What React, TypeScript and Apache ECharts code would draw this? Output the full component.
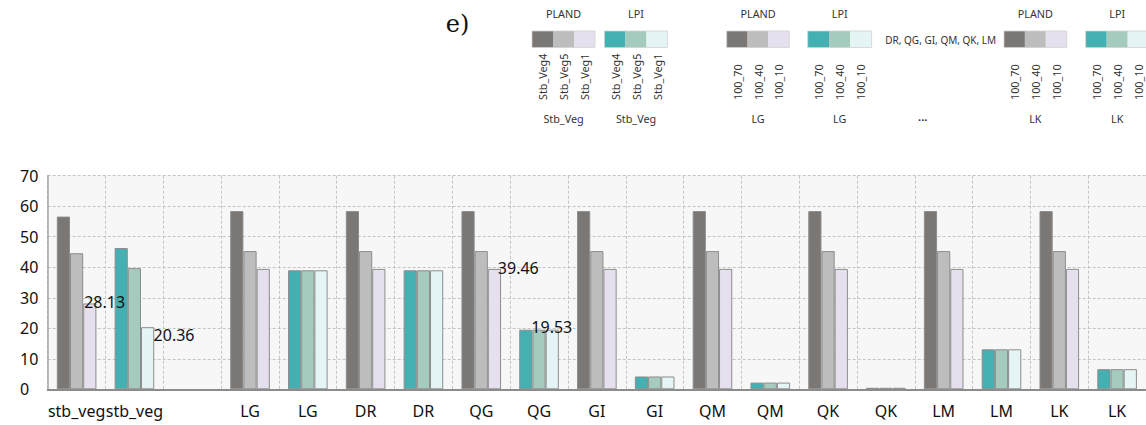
import React, { useEffect, useRef } from "react";
import * as echarts from "echarts";

// Landscape metrics per scenario: each category holds three bars
const categories = [
  "stb_veg", "stb_veg", "", "LG", "LG", "DR", "DR", "QG", "QG",
  "GI", "GI", "QM", "QM", "QK", "QK", "LM", "LM", "LK", "LK",
];
const metrics = [
  "PLAND", "LPI", "", "PLAND", "LPI", "PLAND", "LPI", "PLAND", "LPI",
  "PLAND", "LPI", "PLAND", "LPI", "PLAND", "LPI", "PLAND", "LPI", "PLAND", "LPI",
];
// first / second / third bar of each category (Stb_Veg4, Stb_Veg5, Stb_Veg1 or 100_70, 100_40, 100_10)
const barA = [56.6, 46.3, null, 58.4, 39.0, 58.4, 39.0, 58.4, 19.53, 58.4, 4.2, 58.4, 2.2, 58.4, 0.5, 58.4, 13.1, 58.4, 6.6];
const barB = [44.6, 39.7, null, 45.3, 39.0, 45.3, 39.0, 45.3, 19.53, 45.3, 4.2, 45.3, 2.2, 45.3, 0.5, 45.3, 13.1, 45.3, 6.6];
const barC = [28.13, 20.36, null, 39.46, 39.0, 39.46, 39.0, 39.46, 19.53, 39.46, 4.2, 39.46, 2.2, 39.46, 0.5, 39.46, 13.1, 39.46, 6.6];

const yTicks = [0, 10, 20, 30, 40, 50, 60, 70];

const plandColors = ["#7b7774", "#bdbdbd", "#e6e0ee"];
const lpiColors = ["#45b0b2", "#a4cbbd", "#e5f4f4"];

const vegKeys = ["Stb_Veg4", "Stb_Veg5", "Stb_Veg1"];
const coverKeys = ["100_70", "100_40", "100_10"];
const otherSites = "DR, QG, GI, QM, QK, LM";

// value labels placed next to selected bars: [categoryIndex, dx, dy]
const labelledC: Array<[number, number, number]> = [
  [0, 1, -1.5],
  [1, 12.6, 8],
  [7, 10, -1],
  [8, -14.3, -3],
];

const FONT = "Noto Sans";
const LEGEND_FS = 10.8;

function txt(x: number, y: number, text: string, fontSize: number, extra: any = {}, styleExtra: any = {}) {
  return {
    type: "text", x, y, ...extra,
    style: {
      text, fontSize, fontFamily: FONT, fill: "#333",
      align: "center", verticalAlign: "middle", textAlign: "center", textVerticalAlign: "middle",
      ...styleExtra,
    },
  };
}

function legendBlock(x0: number, w: number, title: string, colors: string[], keys: string[], group: string) {
  const els: any[] = [];
  const cx = x0 + 1.5 * w;
  els.push(txt(cx, 13, title, LEGEND_FS));
  colors.forEach((c, i) => {
    els.push({ type: "rect", shape: { x: x0 + i * w, y: 31, width: w, height: 16.5 }, style: { fill: c } });
  });
  els.push({
    type: "rect", shape: { x: x0, y: 31, width: 3 * w, height: 16.5 },
    style: { fill: "none", stroke: "#d2d2d2", lineWidth: 0.8 },
  });
  keys.forEach((k, i) => {
    els.push(txt(x0 + (i + 0.5) * w, 100, k, LEGEND_FS, { rotation: Math.PI / 2 }, { align: "left", textAlign: "left" }));
  });
  els.push(txt(cx, 118, group, LEGEND_FS));
  return els;
}

function makeSeries(values: (number | null)[], k: number, labelled: Array<[number, number, number]>) {
  return {
    type: "bar",
    barGap: "0%",
    barCategoryGap: "31.5%",
    data: values.map((v, i) => {
      const lab = labelled.find((l) => l[0] === i);
      const item: any = {
        value: v,
        itemStyle: {
          color: metrics[i] === "LPI" ? lpiColors[k] : plandColors[k],
          borderColor: "#8d8d8d",
          borderWidth: 1,
        },
      };
      if (lab) {
        item.label = {
          show: true,
          position: [lab[1], lab[2]],
          align: "left",
          verticalAlign: "middle",
          fontSize: 16,
          fontFamily: FONT,
          color: "#111",
          formatter: (p: any) => String(p.value),
        };
      }
      return item;
    }),
  };
}

export default function App() {
  const ref = useRef<HTMLDivElement>(null);
  useEffect(() => {
    if (!ref.current) return;
    const chart = echarts.init(ref.current, null, { renderer: "svg" });
    const graphic: any[] = [
      {
        type: "text", x: 457.5, y: 24,
        style: { text: "e)", fontSize: 24, fontFamily: "DejaVu Serif", fill: "#111", align: "center", verticalAlign: "middle", textAlign: "center", textVerticalAlign: "middle" },
      },
      ...legendBlock(532, 21, "PLAND", plandColors, vegKeys, "Stb_Veg"),
      ...legendBlock(604.5, 21, "LPI", lpiColors, vegKeys, "Stb_Veg"),
      ...legendBlock(726.7, 20.9, "PLAND", plandColors, coverKeys, "LG"),
      ...legendBlock(807.7, 21.3, "LPI", lpiColors, coverKeys, "LG"),
      txt(940.7, 40, otherSites, 10),
      txt(922.7, 116, "...", 11, {}, { fontWeight: "bold" }),
      ...legendBlock(1004, 20.9, "PLAND", plandColors, coverKeys, "LK"),
      ...legendBlock(1085.7, 21, "LPI", lpiColors, coverKeys, "LK"),
    ];
    chart.setOption({
      animation: false,
      backgroundColor: "#ffffff",
      grid: {
        left: 47.7, top: 175.7, width: 1099, height: 213.6,
        show: true, backgroundColor: "#f7f7f7", borderWidth: 0,
      },
      xAxis: {
        type: "category",
        data: categories,
        boundaryGap: true,
        axisLine: { show: true, lineStyle: { color: "#8c8c8c", width: 2 } },
        axisTick: { show: false },
        axisLabel: { interval: 0, fontSize: 16, fontFamily: FONT, color: "#111", margin: 14 },
        splitLine: { show: true, interval: 0, lineStyle: { color: "#c4c4c4", type: [3, 2], width: 1 } },
      },
      yAxis: {
        type: "value",
        min: yTicks[0],
        max: yTicks[yTicks.length - 1],
        interval: yTicks[1] - yTicks[0],
        axisLine: { show: true, lineStyle: { color: "#a6a6a6", width: 1.5 } },
        axisTick: { show: false },
        axisLabel: { fontSize: 16, fontFamily: FONT, color: "#111", align: "left", margin: 27.7 },
        splitLine: { show: true, lineStyle: { color: "#c4c4c4", type: [3, 2], width: 1 } },
      },
      series: [
        makeSeries(barA, 0, []),
        makeSeries(barB, 1, []),
        makeSeries(barC, 2, labelledC),
      ],
      graphic,
    });
    return () => chart.dispose();
  }, []);
  return (
    <div
      ref={ref}
      style={{ position: "fixed", left: 0, top: 0, width: 1146, height: 425, background: "#fff" }}
    />
  );
}
